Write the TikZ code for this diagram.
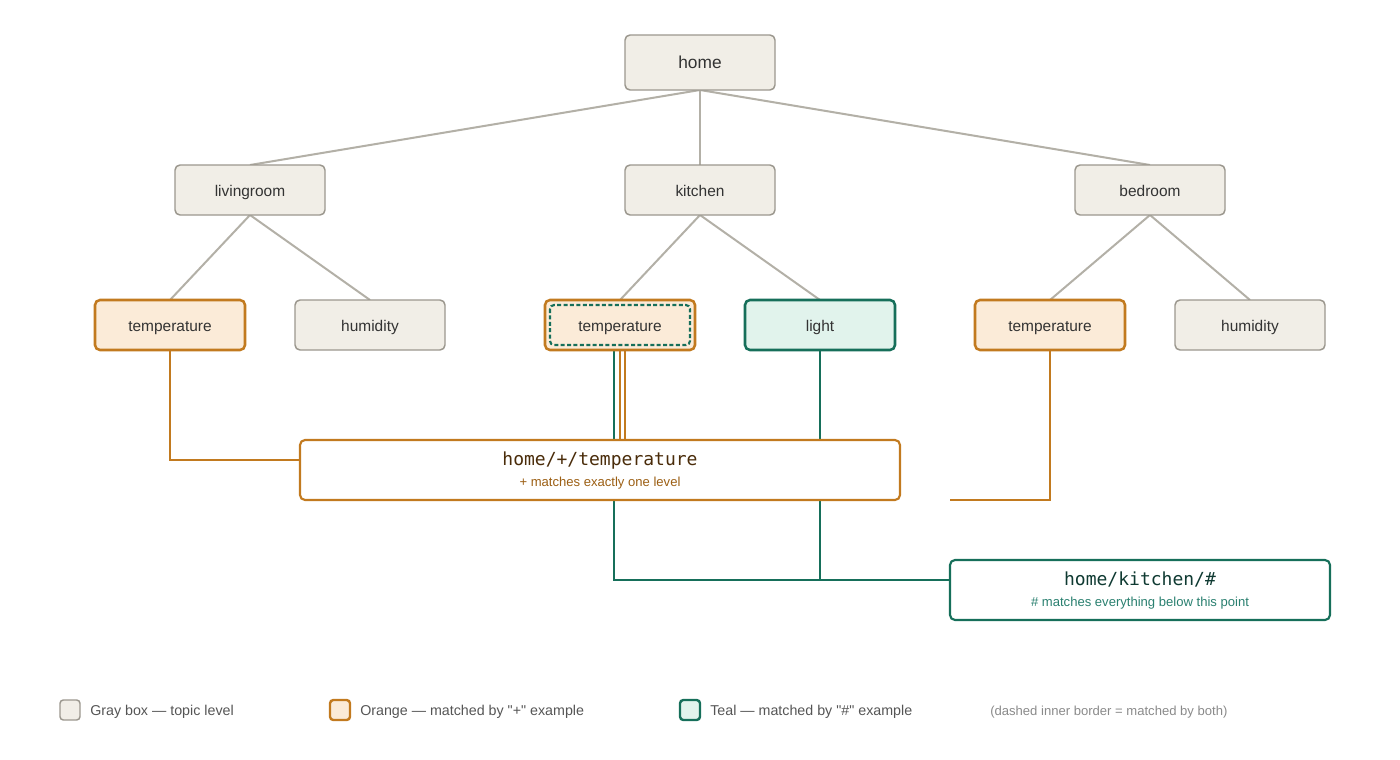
\documentclass[tikz,border=0pt]{standalone}
\usepackage{fontspec}
\setmainfont{Liberation Sans}
\newfontfamily\legfont{Liberation Sans}[Ligatures=TeXOff]
\newfontfamily\monofont{DejaVu Sans Mono}
\usetikzlibrary{calc}
\pgfdeclarelayer{bg}
\pgfsetlayers{bg,main}
\definecolor{grayfill}{HTML}{F1EEE7}
\definecolor{grayline}{HTML}{9B978E}
\definecolor{edgegray}{HTML}{B3B0A7}
\definecolor{orangeline}{HTML}{C27A1F}
\definecolor{orangefill}{HTML}{FBEBD8}
\definecolor{tealline}{HTML}{166F5A}
\definecolor{tealfill}{HTML}{E1F3EC}
\definecolor{txt}{HTML}{333333}
\definecolor{plustitle}{HTML}{4A2C0A}
\definecolor{plussub}{HTML}{9C5F14}
\definecolor{hashtitle}{HTML}{0F3A32}
\definecolor{hashsub}{HTML}{2A8070}
\definecolor{legtxt}{HTML}{555555}
\definecolor{notetxt}{HTML}{8A8A8A}
\tikzset{
  topic/.style={draw=grayline, fill=grayfill, line width=1.1pt, rounded corners=3.75pt,
    minimum width=112.5pt, minimum height=37.5pt, inner sep=0pt, outer sep=0pt,
    text height=9pt, text depth=0pt,
    text=txt, font=\fontsize{11.6pt}{13pt}\selectfont},
  plusnode/.style={topic, draw=orangeline, fill=orangefill, line width=1.9pt},
  hashnode/.style={topic, draw=tealline, fill=tealfill, line width=1.9pt},
  querybox/.style={draw, fill=white, line width=1.6pt, rounded corners=3.75pt,
    minimum width=450pt, minimum height=45pt, inner sep=0pt, outer sep=0pt},
  qtitle/.style={anchor=base, inner sep=0pt, font=\monofont\fontsize{13.5pt}{15pt}\selectfont},
  qsub/.style={anchor=base, inner sep=0pt, font=\fontsize{9.8pt}{11pt}\selectfont},
  treeedge/.style={draw=edgegray, line width=1.5pt},
  orangeedge/.style={draw=orangeline, line width=1.6pt},
  tealedge/.style={draw=tealline, line width=1.6pt},
  legbox/.style={rounded corners=2.5pt, minimum width=15pt, minimum height=15pt, inner sep=0pt, outer sep=0pt},
  legtext/.style={anchor=base west, text=legtxt, inner sep=0pt, font=\legfont\fontsize{10.7pt}{12pt}\selectfont},
}
\begin{document}
\begin{tikzpicture}[x=0.75pt, y=-0.75pt]
\useasboundingbox (0,0) rectangle (1400,760);
% tree
\node[topic, minimum height=41.25pt, font=\fontsize{13pt}{14pt}\selectfont] (home) at (700,62.5) {home};
\node[topic] (lr) at (250,190) {livingroom};
\node[topic] (kit) at (700,190) {kitchen};
\node[topic] (bed) at (1150,190) {bedroom};
\node[plusnode] (tl) at (170,325) {temperature};
\node[topic] (hl) at (370,325) {humidity};
\node[plusnode] (tk) at (620,325) {temperature};
\node[hashnode] (li) at (820,325) {light};
\node[plusnode] (tb) at (1050,325) {temperature};
\node[topic] (hb) at (1250,325) {humidity};
\draw[tealline, line width=1.6pt, dash pattern=on 3pt off 1.8pt, rounded corners=3pt] (550,305) rectangle (690,345);
% query boxes
\node[querybox, draw=orangeline] (plus) at (600,470) {};
\node[qtitle, text=plustitle] (plust) at (600,465) {home/+/temperature};
\node[qsub, text=plussub] (pluss) at (600,486) {+ matches exactly one level};
\node[querybox, draw=tealline, minimum width=285pt] (hash) at (1140,590) {};
\node[qtitle, text=hashtitle] (hasht) at (1140,585) {home/kitchen/\#};
\node[qsub, text=hashsub] (hashs) at (1140,606) {\# matches everything below this point};
\coordinate (tj) at (820,580);
\coordinate (ob) at (950,500);
\begin{pgfonlayer}{bg}
\draw[treeedge] (home.south) -- (lr.north);
\draw[treeedge] (home.south) -- (kit.north);
\draw[treeedge] (home.south) -- (bed.north);
\draw[treeedge] (lr.south) -- (tl.north);
\draw[treeedge] (lr.south) -- (hl.north);
\draw[treeedge] (kit.south) -- (tk.north);
\draw[treeedge] (kit.south) -- (li.north);
\draw[treeedge] (bed.south) -- (tb.north);
\draw[treeedge] (bed.south) -- (hb.north);
\draw[orangeedge] (tl.south) |- ([yshift=7.5pt]plus.west);
\draw[orangeedge] (tk.south) -- (tk.south |- plus.north);
\draw[orangeedge] ([xshift=3.9pt]tk.south) -- ([xshift=3.9pt]tk.south |- plus.north);
\draw[orangeedge] (tb.south) |- (ob);
\draw[tealedge] ([xshift=-4.5pt]tk.south) |- ([yshift=7.5pt]hash.west);
\draw[tealedge] (li.south) -- (tj);
\end{pgfonlayer}
% legend
\node[legbox, draw=grayline, fill=grayfill, line width=1.1pt] (lg1) at (70,710) {};
\node[legtext] (lt1) at (90,715) {Gray box — topic level};
\node[legbox, draw=orangeline, fill=orangefill, line width=1.8pt] (lg2) at (340,710) {};
\node[legtext] (lt2) at (360,715) {Orange — matched by "+" example};
\node[legbox, draw=tealline, fill=tealfill, line width=1.8pt] (lg3) at (690,710) {};
\node[legtext] (lt3) at (710,715) {Teal — matched by "\#" example};
\node[legtext, text=notetxt, font=\legfont\fontsize{9.8pt}{11pt}\selectfont] (note) at (990,715) {(dashed inner border = matched by both)};
\end{tikzpicture}
\end{document}
